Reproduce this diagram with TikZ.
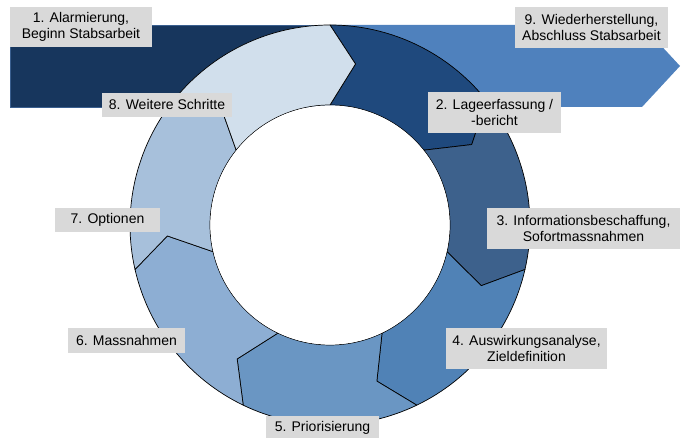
\documentclass[tikz,border=0pt]{standalone}
\usepackage{fontspec}
\setmainfont{Liberation Sans}
\definecolor{bandA}{HTML}{17365D}
\definecolor{bandAline}{HTML}{3A5F8F}
\definecolor{bandB}{HTML}{4F81BD}
\definecolor{segII}{HTML}{1F497D}
\definecolor{segIII}{HTML}{3D618C}
\definecolor{segIV}{HTML}{5082B6}
\definecolor{segV}{HTML}{6A96C3}
\definecolor{segVI}{HTML}{8DAED3}
\definecolor{segVII}{HTML}{A7C0DB}
\definecolor{segVIII}{HTML}{D1DFEC}
\definecolor{lblgray}{HTML}{D9D9D9}
\tikzset{
  lbl/.style={fill=lblgray, inner sep=0pt, align=center, font=\fontsize{14}{16.5}\selectfont, text=black},
  segline/.style={draw=black, line width=0.7pt, line join=round}
}
\begin{document}
\begin{tikzpicture}[x=1pt,y=1pt]
\useasboundingbox (0,0) rectangle (681,438);
% background bands (py -> Y = 438 - py)
\fill[bandB] (330,413) -- (642,413) -- (680,372) -- (642,331) -- (330,331) -- cycle;
\filldraw[fill=bandA, draw=bandAline, line width=0.8pt] (10,413) rectangle (330,331);
% ring segments
\begin{scope}[shift={(330,213)}]
  \foreach \k/\col in {0/segII,1/segIII,2/segIV,3/segV,4/segVI,5/segVII,6/segVIII}{
    \pgfmathsetmacro{\s}{90-\k*360/7}
    \pgfmathsetmacro{\e}{\s-360/7}
    \filldraw[segline, fill=\col]
      (\s:200) arc[start angle=\s, end angle=\e, radius=200]
      -- (\e-9:163) -- (\e:120)
      arc[start angle=\e, end angle=\s, radius=120]
      -- (\s-9:163) -- cycle;
  }
  \coordinate (c) at (0,0);
  \fill[white] (c) circle[radius=119.6];
\end{scope}
% labels (centres from pixel boxes)
\node[lbl, minimum width=142, minimum height=40] (l1) at (81,411) {1. Alarmierung,\\Beginn Stabsarbeit};
\node[lbl, minimum width=153, minimum height=41] (l9) at (591.5,410.5) {9. Wiederherstellung,\\Abschluss Stabsarbeit};
\node[lbl, minimum width=133, minimum height=41] (l2) at (494.5,325.5) {2. Lageerfassung /\\-bericht};
\node[lbl, minimum width=130, minimum height=24] (l8) at (167,333) {8. Weitere Schritte};
\node[lbl, minimum width=105, minimum height=24] (l7) at (107.5,218) {7. Optionen};
\node[lbl, minimum width=193, minimum height=41] (l3) at (583.5,209.5) {3. Informationsbeschaffung,\\Sofortmassnahmen};
\node[lbl, minimum width=117, minimum height=25] (l6) at (126.5,97.5) {6. Massnahmen};
\node[lbl, minimum width=161, minimum height=41] (l4) at (526.5,89.5) {4. Auswirkungsanalyse,\\Zieldefinition};
\node[lbl, minimum width=113, minimum height=24] (l5) at (322.5,10) {5. Priorisierung};
\end{tikzpicture}
\end{document}
